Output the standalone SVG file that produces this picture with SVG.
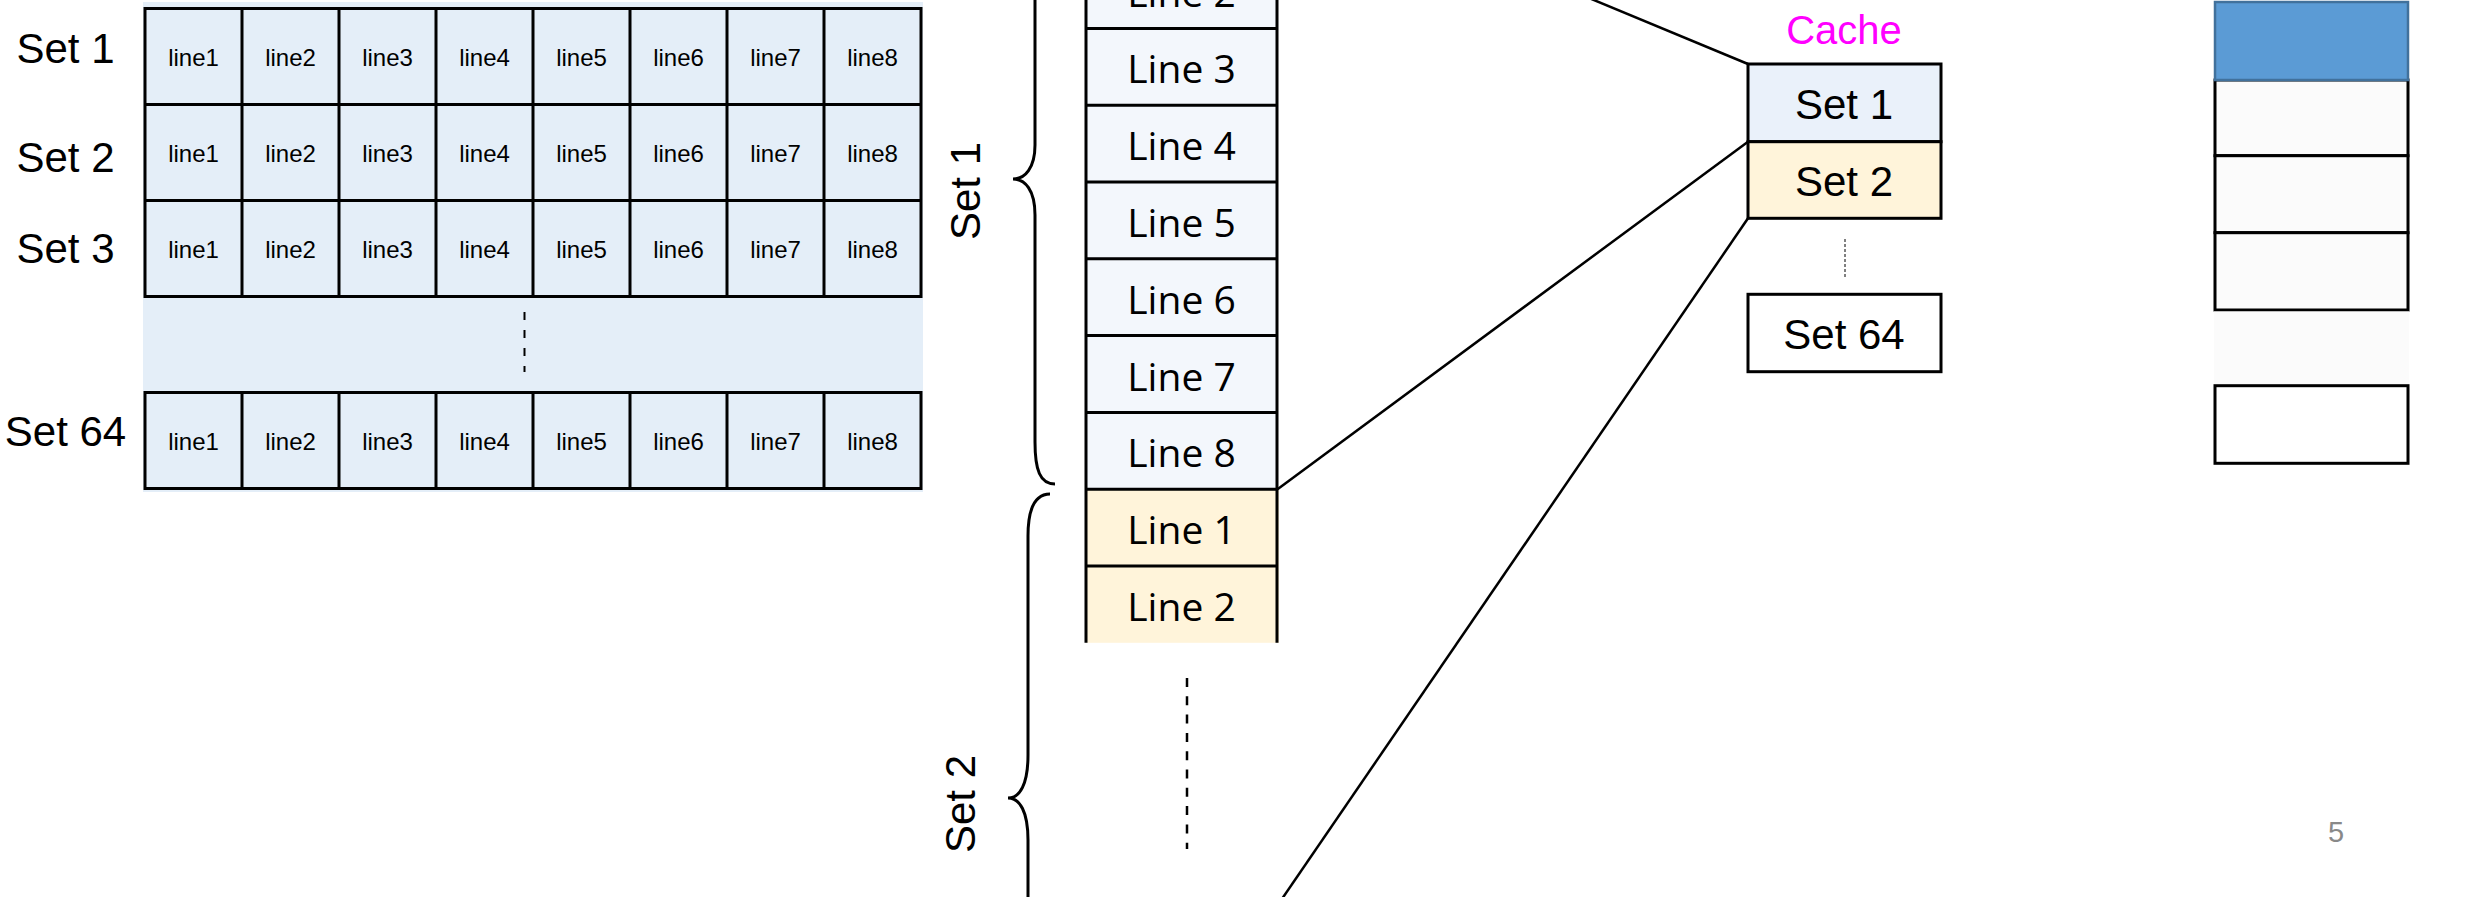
<svg xmlns="http://www.w3.org/2000/svg" width="2473" height="897" viewBox="0 0 2473 897">
<defs>
<style>
.lbl{font-family:"Liberation Sans",Arial,sans-serif;font-size:42px;fill:#000;text-anchor:middle}
.cell{font-family:"Liberation Sans",Arial,sans-serif;font-size:24px;fill:#000;text-anchor:middle}
.ln{font-family:"Open Sans","Noto Sans",sans-serif;font-size:39px;fill:#000;text-anchor:middle}
.grid{fill:none;stroke:#000;stroke-width:3}
.box{stroke:#000;stroke-width:3}
.conn{stroke:#000;stroke-width:2.5;fill:none}
.brace{stroke:#000;stroke-width:3;fill:none}
</style>
</defs>
<rect width="2473" height="897" fill="#fff"/>

<g id="left-table">
<rect x="143" y="2" width="780" height="490" fill="#E4EEF8"/>
<g class="grid">
<rect x="145" y="8.5" width="776" height="288"/>
<line x1="145" y1="104.5" x2="921" y2="104.5"/>
<line x1="145" y1="200.5" x2="921" y2="200.5"/>
<rect x="145" y="392.5" width="776" height="96"/>
<path d="M242 8.5V296.5M339 8.5V296.5M436 8.5V296.5M533 8.5V296.5M630 8.5V296.5M727 8.5V296.5M824 8.5V296.5"/>
<path d="M242 392.5V488.5M339 392.5V488.5M436 392.5V488.5M533 392.5V488.5M630 392.5V488.5M727 392.5V488.5M824 392.5V488.5"/>
</g>
<line x1="524.5" y1="312" x2="524.5" y2="372" stroke="#000" stroke-width="2" stroke-dasharray="8 10"/>
<g class="cell">
<text x="193.5" y="66">line1</text><text x="290.5" y="66">line2</text><text x="387.5" y="66">line3</text><text x="484.5" y="66">line4</text><text x="581.5" y="66">line5</text><text x="678.5" y="66">line6</text><text x="775.5" y="66">line7</text><text x="872.5" y="66">line8</text>
<text x="193.5" y="162">line1</text><text x="290.5" y="162">line2</text><text x="387.5" y="162">line3</text><text x="484.5" y="162">line4</text><text x="581.5" y="162">line5</text><text x="678.5" y="162">line6</text><text x="775.5" y="162">line7</text><text x="872.5" y="162">line8</text>
<text x="193.5" y="258">line1</text><text x="290.5" y="258">line2</text><text x="387.5" y="258">line3</text><text x="484.5" y="258">line4</text><text x="581.5" y="258">line5</text><text x="678.5" y="258">line6</text><text x="775.5" y="258">line7</text><text x="872.5" y="258">line8</text>
<text x="193.5" y="450">line1</text><text x="290.5" y="450">line2</text><text x="387.5" y="450">line3</text><text x="484.5" y="450">line4</text><text x="581.5" y="450">line5</text><text x="678.5" y="450">line6</text><text x="775.5" y="450">line7</text><text x="872.5" y="450">line8</text>
</g>
<g class="lbl">
<text x="65.5" y="63">Set 1</text>
<text x="65.5" y="172">Set 2</text>
<text x="65.5" y="263">Set 3</text>
<text x="65.5" y="446">Set 64</text>
</g>
</g>

<g id="memory-column">
<rect x="1086" y="-10" width="191" height="499.2" fill="#F3F7FC"/>
<rect x="1086" y="489.2" width="193" height="153.6" fill="#FFF4DA"/>
<g class="grid">
<path d="M1086 -10V642.8M1277 -10V642.8"/>
<path d="M1086 28.4H1277M1086 105.2H1277M1086 182H1277M1086 258.8H1277M1086 335.6H1277M1086 412.4H1277M1086 489.2H1277M1086 566H1277"/>
</g>
<g class="ln">
<text x="1181.5" y="6.5">Line 2</text>
<text x="1181.5" y="83.3">Line 3</text>
<text x="1181.5" y="160.1">Line 4</text>
<text x="1181.5" y="236.9">Line 5</text>
<text x="1181.5" y="313.7">Line 6</text>
<text x="1181.5" y="390.5">Line 7</text>
<text x="1181.5" y="467.3">Line 8</text>
<text x="1181.5" y="544.1">Line 1</text>
<text x="1181.5" y="620.9">Line 2</text>
</g>
<line x1="1187" y1="678" x2="1187" y2="849" stroke="#000" stroke-width="2.5" stroke-dasharray="9 9.3"/>
</g>

<g id="brace-set1">
<path class="brace" d="M1055 484C1040 484 1035 470 1035 442L1035 215C1035 190 1025 179 1013 179C1025 179 1035 168 1035 145L1035 -80C1035 -110 1040 -126 1055 -126"/>
<text class="lbl" transform="translate(980 191) rotate(-90)">Set 1</text>
</g>

<g id="brace-set2">
<path class="brace" d="M1050 494C1035 494 1028 508 1028 536L1028 755C1028 784 1020 798 1008 798C1020 798 1028 812 1028 840L1028 1060C1028 1088 1035 1102 1050 1102"/>
<text class="lbl" transform="translate(975 804) rotate(-90)">Set 2</text>
</g>

<g id="cache">
<text x="1844" y="44" style="font-family:'Liberation Sans',Arial,sans-serif;font-size:40px;fill:#FF00FF;text-anchor:middle">Cache</text>
<rect class="box" x="1748" y="64" width="193" height="77.7" fill="#EAF1FA"/>
<rect class="box" x="1748" y="141.7" width="193" height="76.6" fill="#FFF4DA"/>
<line x1="1845" y1="239" x2="1845" y2="278" stroke="#000" stroke-width="1" stroke-dasharray="3 2"/>
<rect class="box" x="1748" y="294.3" width="193" height="77.4" fill="#fff"/>
<g class="lbl">
<text x="1844" y="119">Set 1</text>
<text x="1844" y="196">Set 2</text>
<text x="1844" y="349">Set 64</text>
</g>
</g>

<g id="right-column">
<rect x="2215" y="80" width="193" height="75.7" fill="#FBFBFB" class="box"/>
<rect x="2215" y="155.7" width="193" height="77" fill="#FBFBFB" class="box"/>
<rect x="2215" y="232.7" width="193" height="77.3" fill="#FBFBFB" class="box"/>
<rect x="2214" y="311.5" width="195" height="73" fill="#FBFBFB"/>
<rect x="2215" y="385.7" width="193" height="77.6" fill="#fff" class="box"/>
<rect x="2215" y="2" width="193" height="78" fill="#5B9BD5" stroke="#41719C" stroke-width="2.5"/>
</g>

<g id="connectors">
<line class="conn" x1="1589" y1="-2" x2="1748" y2="64"/>
<line class="conn" x1="1277.5" y1="489.2" x2="1748" y2="141.7"/>
<line class="conn" x1="1748" y1="218.3" x2="1273" y2="912"/>
</g>

<text x="2336" y="842" style="font-family:'Liberation Sans',Arial,sans-serif;font-size:29px;fill:#898989;text-anchor:middle">5</text>
</svg>
